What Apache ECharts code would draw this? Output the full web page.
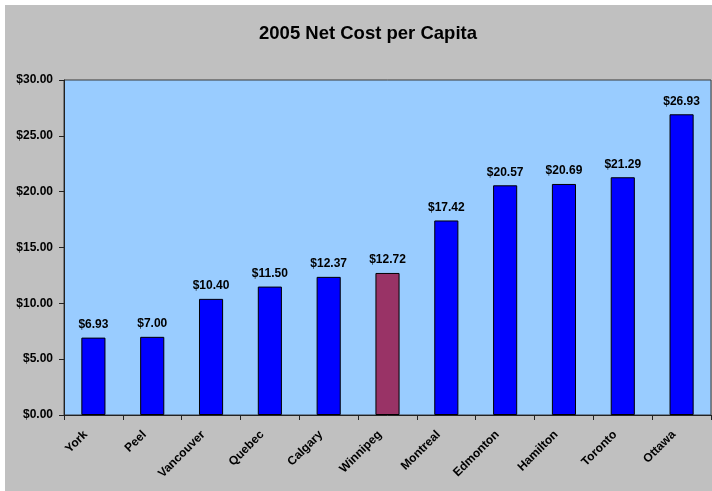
<!DOCTYPE html>
<html>
<head>
<meta charset="utf-8">
<script src="https://cdn.jsdelivr.net/npm/echarts@6/dist/echarts.min.js"></script>
<style>
  html, body { margin: 0; padding: 0; background: #ffffff; overflow: hidden; }
  #chart { position: absolute; left: 5px; top: 5px; width: 707px; height: 486px; }
</style>
</head>
<body>
<div id="chart"></div>
<script>
// Net cost per capita by city, 2005
const cities = ['York', 'Peel', 'Vancouver', 'Quebec', 'Calgary', 'Winnipeg',
                'Montreal', 'Edmonton', 'Hamilton', 'Toronto', 'Ottawa'];
const netCost = [6.93, 7.00, 10.40, 11.50, 12.37, 12.72, 17.42, 20.57, 20.69, 21.29, 26.93];
const highlightCity = 'Winnipeg';
const yTicks = [0, 5, 10, 15, 20, 25, 30];

const fontFamily = '"Liberation Sans", Arial, sans-serif';
const money = v => '$' + Number(v).toFixed(2);

const chart = echarts.init(document.getElementById('chart'));
chart.setOption({
  backgroundColor: '#c0c0c0',
  animation: false,
  title: {
    text: '2005 Net Cost per Capita',
    left: 358,
    top: 14,
    textAlign: 'center',
    textStyle: { fontFamily, fontSize: 18.5, fontWeight: 'bold', color: '#000' }
  },
  grid: {
    left: 59, right: 1, top: 75, bottom: 76,
    show: true, backgroundColor: '#99ccff', borderColor: '#3a3a3a', borderWidth: 1
  },
  xAxis: {
    type: 'category',
    data: cities,
    axisLine: { lineStyle: { color: '#222', width: 1 } },
    axisTick: { show: true, length: 5, lineStyle: { color: '#222' } },
    axisLabel: {
      rotate: 45, interval: 0, margin: 10, padding: [0, 11, 0, 0],
      fontFamily, fontSize: 12, fontWeight: 'bold', color: '#000'
    }
  },
  yAxis: {
    type: 'value',
    min: yTicks[0], max: yTicks[yTicks.length - 1], interval: 5,
    axisLine: { show: true, lineStyle: { color: '#222', width: 1 } },
    axisTick: { show: true, length: 5, lineStyle: { color: '#222' } },
    splitLine: { show: false },
    axisLabel: {
      margin: 11, formatter: money,
      fontFamily, fontSize: 12, fontWeight: 'bold', color: '#000'
    }
  },
  series: [{
    type: 'bar',
    barWidth: '41%',
    data: netCost.map((v, i) => ({
      value: v,
      itemStyle: { color: cities[i] === highlightCity ? '#993366' : '#0000ff' }
    })),
    itemStyle: { borderColor: '#000', borderWidth: 1 },
    label: {
      show: true, position: 'top', distance: 7, formatter: p => money(p.value),
      fontFamily, fontSize: 12, fontWeight: 'bold', color: '#000'
    }
  }]
});
</script>
</body>
</html>
